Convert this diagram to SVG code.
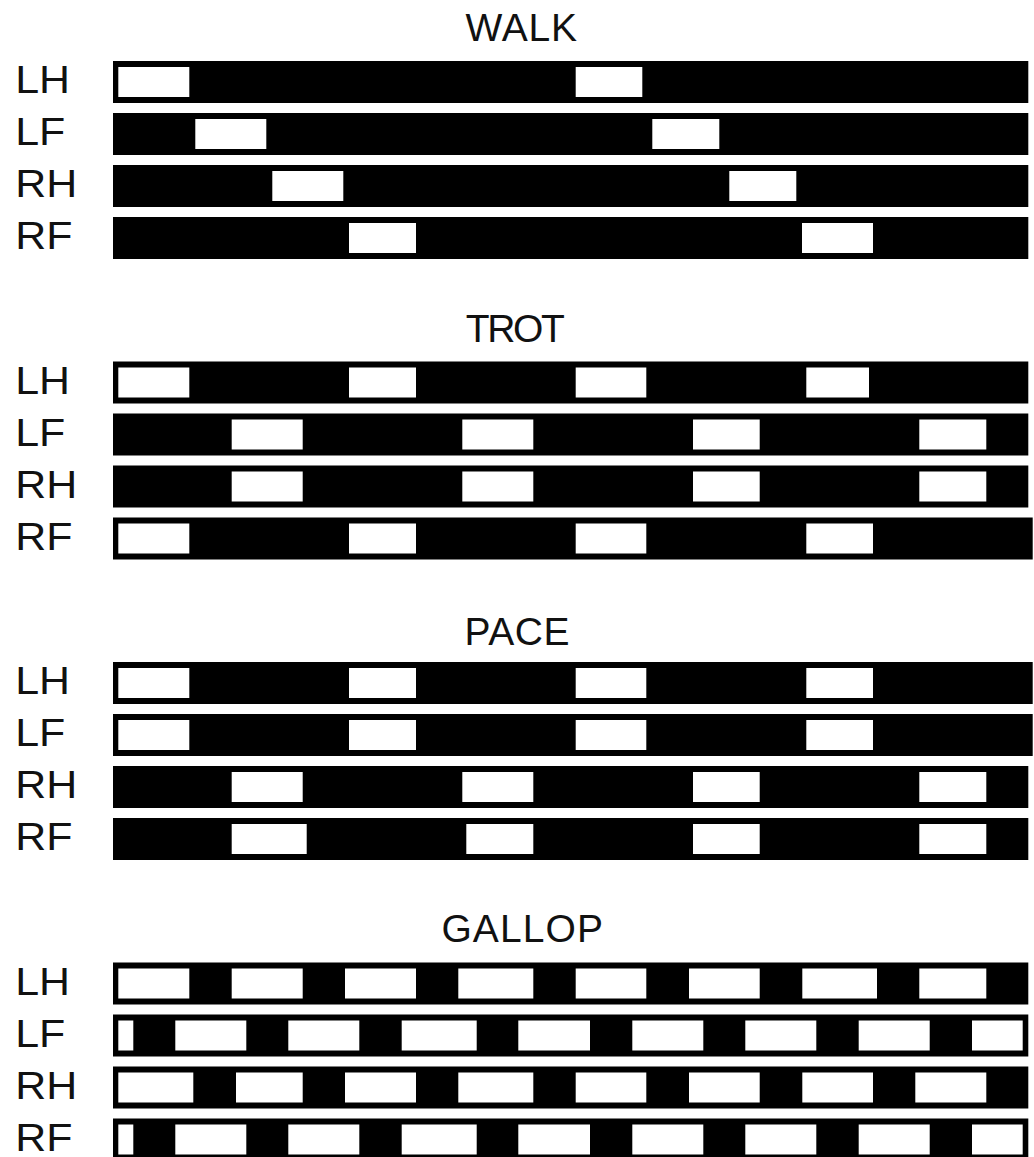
<svg xmlns="http://www.w3.org/2000/svg" width="1034" height="1157" viewBox="0 0 1034 1157">
<style>
.bg{fill:#fff}
.bar{fill:#000}
.gap{fill:#fff}
.title{font-family:"Liberation Sans",Arial,sans-serif;font-size:39px;fill:#111}
.lbl{font-family:"Liberation Sans",Arial,sans-serif;font-size:39px;fill:#111}
</style>
<rect class="bg" x="0" y="0" width="1034" height="1157"/>

<g id="walk">
  <text class="title" x="465.5" y="41" textLength="111.5" lengthAdjust="spacing">WALK</text>
  <g id="walk-LH">
    <text class="lbl" transform="translate(15.2 93) scale(1.1 1)">LH</text>
    <rect class="bar" x="113" y="61" width="915.3" height="42"/>
    <rect class="gap" x="118.3" y="67" width="71" height="30"/>
    <rect class="gap" x="575.7" y="67" width="66.6" height="30"/>
  </g>
  <g id="walk-LF">
    <text class="lbl" transform="translate(15.2 145) scale(1.1 1)">LF</text>
    <rect class="bar" x="113" y="113" width="915.3" height="42"/>
    <rect class="gap" x="195.3" y="119" width="71" height="30"/>
    <rect class="gap" x="652.3" y="119" width="67" height="30"/>
  </g>
  <g id="walk-RH">
    <text class="lbl" transform="translate(15.2 197) scale(1.1 1)">RH</text>
    <rect class="bar" x="113" y="165" width="915.3" height="42"/>
    <rect class="gap" x="272.3" y="171" width="71" height="30"/>
    <rect class="gap" x="729.3" y="171" width="67" height="30"/>
  </g>
  <g id="walk-RF">
    <text class="lbl" transform="translate(15.2 249) scale(1.1 1)">RF</text>
    <rect class="bar" x="113" y="217" width="915.3" height="42"/>
    <rect class="gap" x="349" y="223" width="67" height="30"/>
    <rect class="gap" x="802" y="223" width="71" height="30"/>
  </g>
</g>

<g id="trot">
  <text class="title" x="465.8" y="342" textLength="99" lengthAdjust="spacing">TROT</text>
  <g id="trot-LH">
    <text class="lbl" transform="translate(15.2 394) scale(1.1 1)">LH</text>
    <rect class="bar" x="113" y="361.5" width="915.3" height="42"/>
    <rect class="gap" x="118.3" y="367.5" width="71" height="30"/>
    <rect class="gap" x="349" y="367.5" width="67" height="30"/>
    <rect class="gap" x="575.7" y="367.5" width="70.6" height="30"/>
    <rect class="gap" x="806.3" y="367.5" width="62.7" height="30"/>
  </g>
  <g id="trot-LF">
    <text class="lbl" transform="translate(15.2 446) scale(1.1 1)">LF</text>
    <rect class="bar" x="113" y="413.5" width="915.3" height="42"/>
    <rect class="gap" x="231.7" y="419.5" width="71" height="30"/>
    <rect class="gap" x="462.3" y="419.5" width="71" height="30"/>
    <rect class="gap" x="693" y="419.5" width="66.7" height="30"/>
    <rect class="gap" x="919.3" y="419.5" width="67" height="30"/>
  </g>
  <g id="trot-RH">
    <text class="lbl" transform="translate(15.2 498) scale(1.1 1)">RH</text>
    <rect class="bar" x="113" y="465.5" width="915.3" height="42"/>
    <rect class="gap" x="231.7" y="471.5" width="71" height="30"/>
    <rect class="gap" x="462.3" y="471.5" width="71" height="30"/>
    <rect class="gap" x="693" y="471.5" width="66.7" height="30"/>
    <rect class="gap" x="919.3" y="471.5" width="67" height="30"/>
  </g>
  <g id="trot-RF">
    <text class="lbl" transform="translate(15.2 550) scale(1.1 1)">RF</text>
    <rect class="bar" x="113" y="517.5" width="919.7" height="42"/>
    <rect class="gap" x="118.3" y="523.5" width="71" height="30"/>
    <rect class="gap" x="349" y="523.5" width="67" height="30"/>
    <rect class="gap" x="575.7" y="523.5" width="70.6" height="30"/>
    <rect class="gap" x="806.3" y="523.5" width="66.7" height="30"/>
  </g>
</g>

<g id="pace">
  <text class="title" x="464.5" y="645" textLength="105" lengthAdjust="spacing">PACE</text>
  <g id="pace-LH">
    <text class="lbl" transform="translate(15.2 694) scale(1.1 1)">LH</text>
    <rect class="bar" x="113" y="662" width="919.7" height="42"/>
    <rect class="gap" x="118.3" y="668" width="71" height="30"/>
    <rect class="gap" x="349" y="668" width="67" height="30"/>
    <rect class="gap" x="575.7" y="668" width="70.6" height="30"/>
    <rect class="gap" x="806.3" y="668" width="66.7" height="30"/>
  </g>
  <g id="pace-LF">
    <text class="lbl" transform="translate(15.2 746) scale(1.1 1)">LF</text>
    <rect class="bar" x="113" y="714" width="919.7" height="42"/>
    <rect class="gap" x="118.3" y="720" width="71" height="30"/>
    <rect class="gap" x="349" y="720" width="67" height="30"/>
    <rect class="gap" x="575.7" y="720" width="70.6" height="30"/>
    <rect class="gap" x="806.3" y="720" width="66.7" height="30"/>
  </g>
  <g id="pace-RH">
    <text class="lbl" transform="translate(15.2 798) scale(1.1 1)">RH</text>
    <rect class="bar" x="113" y="766" width="915.3" height="42"/>
    <rect class="gap" x="231.7" y="772" width="71" height="30"/>
    <rect class="gap" x="462.3" y="772" width="71" height="30"/>
    <rect class="gap" x="693" y="772" width="66.7" height="30"/>
    <rect class="gap" x="919.3" y="772" width="67" height="30"/>
  </g>
  <g id="pace-RF">
    <text class="lbl" transform="translate(15.2 850) scale(1.1 1)">RF</text>
    <rect class="bar" x="113" y="818" width="915.3" height="42"/>
    <rect class="gap" x="231.7" y="824" width="75" height="30"/>
    <rect class="gap" x="466.3" y="824" width="67" height="30"/>
    <rect class="gap" x="693" y="824" width="66.7" height="30"/>
    <rect class="gap" x="919.3" y="824" width="67" height="30"/>
  </g>
</g>

<g id="gallop">
  <text class="title" x="441.4" y="942" textLength="161.5" lengthAdjust="spacing">GALLOP</text>
  <g id="gallop-LH">
    <text class="lbl" transform="translate(15.2 994.5) scale(1.1 1)">LH</text>
    <rect class="bar" x="113" y="962.5" width="915.3" height="42"/>
    <rect class="gap" x="118.3" y="968.5" width="71" height="30"/>
    <rect class="gap" x="231.7" y="968.5" width="71" height="30"/>
    <rect class="gap" x="345" y="968.5" width="71" height="30"/>
    <rect class="gap" x="458.3" y="968.5" width="75" height="30"/>
    <rect class="gap" x="575.7" y="968.5" width="70.6" height="30"/>
    <rect class="gap" x="689" y="968.5" width="70.7" height="30"/>
    <rect class="gap" x="802.3" y="968.5" width="74.7" height="30"/>
    <rect class="gap" x="919.3" y="968.5" width="67" height="30"/>
  </g>
  <g id="gallop-LF">
    <text class="lbl" transform="translate(15.2 1046.5) scale(1.1 1)">LF</text>
    <rect class="bar" x="113" y="1014.5" width="915.3" height="42"/>
    <rect class="gap" x="118.3" y="1020.5" width="15" height="30"/>
    <rect class="gap" x="175.3" y="1020.5" width="71" height="30"/>
    <rect class="gap" x="288.3" y="1020.5" width="71" height="30"/>
    <rect class="gap" x="401.7" y="1020.5" width="75" height="30"/>
    <rect class="gap" x="518.3" y="1020.5" width="71.7" height="30"/>
    <rect class="gap" x="632.3" y="1020.5" width="71" height="30"/>
    <rect class="gap" x="745.3" y="1020.5" width="71" height="30"/>
    <rect class="gap" x="858.7" y="1020.5" width="71" height="30"/>
    <rect class="gap" x="972" y="1020.5" width="50.7" height="30"/>
  </g>
  <g id="gallop-RH">
    <text class="lbl" transform="translate(15.2 1098.5) scale(1.1 1)">RH</text>
    <rect class="bar" x="113" y="1066.5" width="915.3" height="42"/>
    <rect class="gap" x="118.3" y="1072.5" width="75" height="30"/>
    <rect class="gap" x="236" y="1072.5" width="66.7" height="30"/>
    <rect class="gap" x="345" y="1072.5" width="71" height="30"/>
    <rect class="gap" x="458.3" y="1072.5" width="75" height="30"/>
    <rect class="gap" x="575.7" y="1072.5" width="70.6" height="30"/>
    <rect class="gap" x="689" y="1072.5" width="70.7" height="30"/>
    <rect class="gap" x="802.3" y="1072.5" width="70.7" height="30"/>
    <rect class="gap" x="915.3" y="1072.5" width="71" height="30"/>
  </g>
  <g id="gallop-RF">
    <text class="lbl" transform="translate(15.2 1150.5) scale(1.1 1)">RF</text>
    <rect class="bar" x="113" y="1118.5" width="915.3" height="42"/>
    <rect class="gap" x="118.3" y="1124.5" width="15" height="30"/>
    <rect class="gap" x="175.3" y="1124.5" width="71" height="30"/>
    <rect class="gap" x="288.3" y="1124.5" width="71" height="30"/>
    <rect class="gap" x="401.7" y="1124.5" width="75" height="30"/>
    <rect class="gap" x="518.3" y="1124.5" width="71.7" height="30"/>
    <rect class="gap" x="632.3" y="1124.5" width="71" height="30"/>
    <rect class="gap" x="745.3" y="1124.5" width="71" height="30"/>
    <rect class="gap" x="858.7" y="1124.5" width="71" height="30"/>
    <rect class="gap" x="972" y="1124.5" width="50.7" height="30"/>
  </g>
</g>
</svg>
